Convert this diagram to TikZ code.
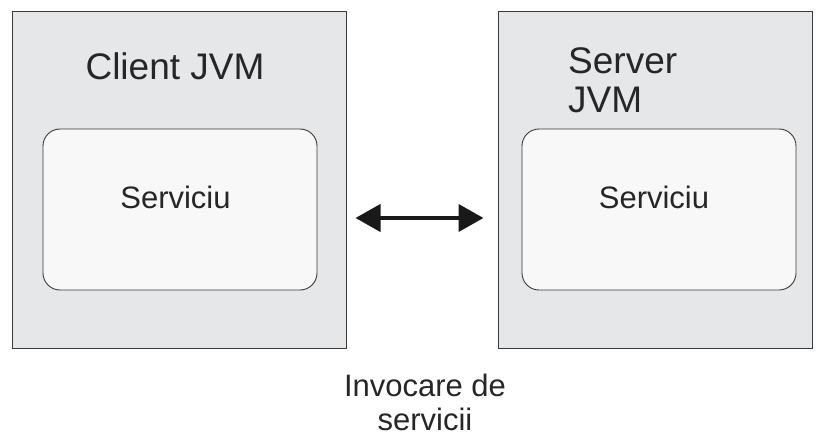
\documentclass[tikz,border=0pt]{standalone}
\usepackage{fontspec}
\setmainfont{Liberation Sans}
\usetikzlibrary{arrows.meta, positioning}

\definecolor{jvmgray}{HTML}{E6E7E8}
\definecolor{svcgray}{HTML}{F8F8F8}
\definecolor{edgegray}{HTML}{3A3A3A}

\tikzset{
  jvmbox/.style={draw=edgegray, line width=1pt, fill=jvmgray, minimum height=336pt, inner sep=0pt},
  svcbox/.style={draw=edgegray, line width=0.9pt, fill=svcgray, rounded corners=17pt, minimum width=274pt, minimum height=161pt, inner sep=0pt},
  label/.style={inner sep=0pt, anchor=base, font=\fontsize{31}{34}\selectfont, text=black!85}
}

\begin{document}
\begin{tikzpicture}[x=1pt, y=-1pt]
        \useasboundingbox (0,0) rectangle (822,436);

        % JVM boxes
        \node[jvmbox, minimum width=334pt] (client) at (179,180) {};
        \node[jvmbox, minimum width=314pt] (server) at (655,180) {};

        % services
        \node[svcbox] (clientsvc) at (180,209.5) {};
        \node[svcbox] (serversvc) at (659,209.5) {};

        % titles
        \node[label, font=\fontsize{37}{39}\selectfont] (clienttitle) at (175,80) {Client JVM};
        \node[label, font=\fontsize{37}{39}\selectfont, anchor=base west, align=left] (servertitle) at (568,112) {Server\\JVM};
        \node[label] (clientname) at (175.5,208) {Serviciu};
        \node[label] (servername) at (654,208) {Serviciu};

        % invocare
        \draw[{Triangle[length=25pt, width=27pt]}-{Triangle[length=25pt, width=27pt]}, line width=4pt, black!90, shorten <=9pt, shorten >=14pt]
            ([yshift=-38pt]client.east) -- ([yshift=-38pt]server.west);
        \node[label, align=center, anchor=base] (call) at (425,430) {Invocare de\\servicii};
\end{tikzpicture}
\end{document}
